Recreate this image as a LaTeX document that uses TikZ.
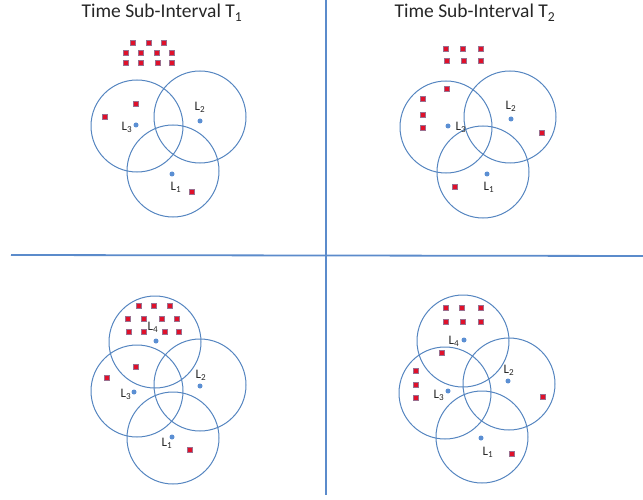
\documentclass[tikz,border=0pt]{standalone}
\usepackage{fontspec}
\setmainfont{Carlito}
\begin{document}
\begin{tikzpicture}[x=1pt,y=-1pt,
  zone/.style={circle,draw=zoneblue,line width=1pt,minimum size=92pt,inner sep=0pt},
  loc/.style={circle,fill=dotblue,minimum size=5pt,inner sep=0pt},
  pkt/.style={rectangle,fill=pktred,draw=pktedge,line width=1.2pt,minimum size=5pt,inner sep=0pt},
  lbl/.style={font=\fontsize{13}{13}\selectfont,text=black!85,inner sep=0pt},
  ttl/.style={font=\fontsize{19.5}{22}\selectfont,text=black!85,inner sep=0pt,anchor=base},
  divider/.style={draw=lineblue,line width=1.8pt}]
\definecolor{zoneblue}{HTML}{5585C0}
\definecolor{dotblue}{HTML}{5B8FD3}
\definecolor{pktred}{HTML}{E0102A}
\definecolor{pktedge}{HTML}{9A7090}
\definecolor{lineblue}{HTML}{5B8BCB}
\path[use as bounding box] (0,0) rectangle (643,500);

% quadrant dividers
\coordinate (vtop) at (326,0);
\coordinate (vbot) at (326,495);
\coordinate (hleft) at (11,255);
\coordinate (hright) at (643,256);
\draw[divider] (vtop) -- (vbot);
\draw[divider] (hleft) -- (hright);

% ---------- upper left: sub-interval T1 ----------
\node[ttl] (t1) at (162,18) {Time Sub-Interval T\textsubscript{1}};
\node[zone] (a3) at (137,126) {};
\node[zone] (a2) at (200,117) {};
\node[zone] (a1) at (173,171) {};
\node[loc] (a3d) at (136,125) {};
\node[loc] (a2d) at (200,121) {};
\node[loc] (a1d) at (172,174) {};
\node[lbl] (a3l) at (127,127) {L\textsubscript{3}};
\node[lbl] (a2l) at (200,107) {L\textsubscript{2}};
\node[lbl] (a1l) at (176,187) {L\textsubscript{1}};
\foreach \px/\py [count=\i] in {133/43,149/43,164/43,126/53,141/53,157/53,172/53,
    126/63,141/63,158/63,172/63,136/104,105/117,192/192}
  \node[pkt] (ap\i) at (\px,\py) {};

% ---------- upper right: sub-interval T2 ----------
\node[ttl] (t2) at (475,18) {Time Sub-Interval T\textsubscript{2}};
\node[zone] (b3) at (446,127) {};
\node[zone] (b2) at (510,117) {};
\node[zone] (b1) at (483,172) {};
\node[loc] (b3d) at (448,126) {};
\node[loc] (b2d) at (511,119) {};
\node[loc] (b1d) at (487,174) {};
\node[lbl] (b3l) at (461,127) {L\textsubscript{3}};
\node[lbl] (b2l) at (511,106) {L\textsubscript{2}};
\node[lbl] (b1l) at (489,187) {L\textsubscript{1}};
\foreach \px/\py [count=\i] in {446/49,463/49,481/49,447/61,464/61,481/61,
    447/89,423/99,423/115,423/128,542/133,455/187}
  \node[pkt] (bp\i) at (\px,\py) {};

% ---------- lower left ----------
\node[zone] (c4) at (155,342) {};
\node[zone] (c3) at (137,391) {};
\node[zone] (c2) at (200,385) {};
\node[zone] (c1) at (173,438) {};
\node[loc] (c4d) at (156,341) {};
\node[loc] (c3d) at (134,392) {};
\node[loc] (c2d) at (200,386) {};
\node[loc] (c1d) at (172,437) {};
\node[lbl] (c4l) at (153,327) {L\textsubscript{4}};
\node[lbl] (c3l) at (126,394) {L\textsubscript{3}};
\node[lbl] (c2l) at (201,375) {L\textsubscript{2}};
\node[lbl] (c1l) at (167,443) {L\textsubscript{1}};
\foreach \px/\py [count=\i] in {139/306,154/306,170/306,128/319,144/319,162/319,177/319,
    129/332,144/332,165/332,179/332,136/367,107/378,190/450}
  \node[pkt] (cp\i) at (\px,\py) {};

% ---------- lower right ----------
\node[zone] (d4) at (463,341) {};
\node[zone] (d3) at (445,393) {};
\node[zone] (d2) at (509,384) {};
\node[zone] (d1) at (482,437) {};
\node[loc] (d4d) at (464,340) {};
\node[loc] (d3d) at (448,391) {};
\node[loc] (d2d) at (508,381) {};
\node[loc] (d1d) at (481,438) {};
\node[lbl] (d4l) at (454,341) {L\textsubscript{4}};
\node[lbl] (d3l) at (439,395) {L\textsubscript{3}};
\node[lbl] (d2l) at (509,370) {L\textsubscript{2}};
\node[lbl] (d1l) at (488,452) {L\textsubscript{1}};
\foreach \px/\py [count=\i] in {446/308,462/308,481/308,446/322,463/322,481/322,
    442/353,416/371,416/385,416/398,543/397,512/454}
  \node[pkt] (dp\i) at (\px,\py) {};
\end{tikzpicture}
\end{document}
